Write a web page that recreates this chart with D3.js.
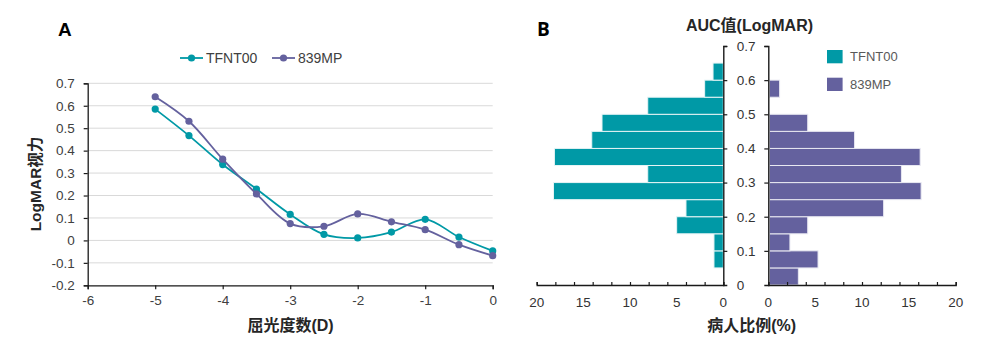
<!DOCTYPE html>
<html>
<head>
<meta charset="utf-8">
<script src="https://cdn.jsdelivr.net/npm/d3@7"></script>
<style>
    body { margin: 0; background: #fff; }
    svg { display: block; font-family: "Liberation Sans", Arial, "Noto Sans CJK SC", sans-serif; }
</style>
</head>
<body>
<div id="chart"></div>
<script>

// panel A: refraction vs LogMAR
const diopters = [-5, -4.5, -4, -3.5, -3, -2.5, -2, -1.5, -1, -0.5, 0];
const tfntVision = [0.585, 0.467, 0.338, 0.229, 0.116, 0.027, 0.011, 0.037, 0.094, 0.015, -0.047];
const mpVision = [0.64, 0.531, 0.362, 0.207, 0.075, 0.063, 0.118, 0.083, 0.048, -0.019, -0.068];
const xTicksA = [-6, -5, -4, -3, -2, -1, 0];
const yTicksA = [-0.2, -0.1, 0, 0.1, 0.2, 0.3, 0.4, 0.5, 0.6, 0.7];

// panel B: AUC histogram, bins by lower edge
const aucBins = [0, 0.05, 0.1, 0.15, 0.2, 0.25, 0.3, 0.35, 0.4, 0.45, 0.5, 0.55, 0.6, 0.65];
const tfntPct = [0, 1, 1, 5, 4, 18.2, 8.1, 18.1, 14.1, 13, 8.1, 2, 1.1, 0];
const mpPct = [3.1, 5.2, 2.2, 4.1, 12.2, 16.2, 14.1, 16.1, 9.1, 4.1, 0, 1.1, 0, 0];
const pctTicks = [0, 5, 10, 15, 20];
const yTicksB = [0, 0.1, 0.2, 0.3, 0.4, 0.5, 0.6, 0.7];

const seriesNames = ["TFNT00", "839MP"];
const colors = ["#0099a6", "#64619e"];

// plain hyphen minus like the original, not the unicode one d3 uses
const fmt = d => d === 0 ? "0" : String(d);

const svg = d3.select("#chart").append("svg")
    .attr("width", 985)
    .attr("height", 351);

// ---------- panel A ----------
let x = d3.scaleLinear().domain([-6, 0]).range([87.7, 492.7]);
let y = d3.scaleLinear().domain([-0.2, 0.7]).range([285.3, 83.3]);

let gA = svg.append("g");

// gridlines
gA.append("g")
    .selectAll("line")
    .data(yTicksA.filter(d => d > -0.2))
    .join("line")
    .attr("x1", x(-6))
    .attr("x2", x(0))
    .attr("y1", d => y(d))
    .attr("y2", d => y(d))
    .attr("stroke", "#d9d9d9")
    .attr("stroke-width", 1);

let xAxisA = gA.append("g")
    .attr("transform", `translate(0,${y(-0.2)})`)
    .call(d3.axisBottom(x).tickValues(xTicksA).tickFormat(fmt).tickSizeOuter(0).tickSize(4).tickPadding(6));

let yAxisA = gA.append("g")
    .attr("transform", `translate(${x(-6)},0)`)
    .call(d3.axisLeft(y).tickValues(yTicksA).tickFormat(fmt).tickSizeOuter(0).tickSize(4).tickPadding(9));

[xAxisA, yAxisA].forEach(a => {
    a.select(".domain").attr("stroke", "#1a1a1a").attr("stroke-width", 1.3);
    a.selectAll(".tick line").attr("stroke", "#1a1a1a").attr("stroke-width", 1.2);
    a.selectAll("text").attr("font-size", "13.5px").attr("fill", "#404040").attr("font-family", "Liberation Sans, Arial, sans-serif");
});

let line = d3.line()
    .x((d, i) => x(diopters[i]))
    .y(d => y(d))
    .curve(d3.curveCatmullRom.alpha(0.5));

[tfntVision, mpVision].forEach((vals, k) => {
    gA.append("path")
        .attr("d", line(vals))
        .attr("fill", "none")
        .attr("stroke", colors[k])
        .attr("stroke-width", 1.8);
    gA.append("g")
        .selectAll("circle")
        .data(vals)
        .join("circle")
        .attr("cx", (d, i) => x(diopters[i]))
        .attr("cy", d => y(d))
        .attr("r", 3.6)
        .attr("fill", colors[k]);
});

// legend A
let legA = gA.append("g").selectAll("g")
    .data(seriesNames)
    .join("g")
    .attr("transform", (d, i) => `translate(180,58) translate(${i * 92},0)`);
legA.append("line")
    .attr("x1", 0).attr("x2", 23)
    .attr("stroke", (d, i) => colors[i])
    .attr("stroke-width", 1.8);
legA.append("circle")
    .attr("cx", 11.5)
    .attr("r", 3.6)
    .attr("fill", (d, i) => colors[i]);
legA.append("text")
    .attr("x", 26)
    .attr("dy", "0.36em")
    .attr("font-size", "14px")
    .attr("fill", "#404040")
    .text(d => d);

// titles A
gA.append("text")
    .attr("x", 58)
    .attr("y", 35.7)
    .attr("font-size", "19px")
    .attr("font-weight", "bold")
    .text("A");

gA.append("text")
    .attr("transform", `translate(41,184) rotate(-90)`)
    .attr("text-anchor", "middle")
    .attr("font-size", "15.5px")
    .attr("font-weight", "bold")
    .attr("fill", "#262626")
    .text("LogMAR视力");

gA.append("text")
    .attr("x", 290.5)
    .attr("y", 331)
    .attr("text-anchor", "middle")
    .attr("font-size", "16px")
    .attr("font-weight", "bold")
    .attr("fill", "#262626")
    .text("屈光度数(D)");

// ---------- panel B ----------
let yB = d3.scaleLinear().domain([0, 0.7]).range([285, 46]);
let xL = d3.scaleLinear().domain([0, 20]).range([723.3, 536.7]);
let xR = d3.scaleLinear().domain([0, 20]).range([768.3, 955.7]);
let binW = 0.05;

let gB = svg.append("g");

// bars
gB.append("g")
    .selectAll("rect")
    .data(tfntPct.map((v, i) => ({low: aucBins[i], v: v})).filter(d => d.v > 0))
    .join("rect")
    .attr("x", d => xL(d.v))
    .attr("y", d => yB(d.low + binW))
    .attr("width", d => xL(0) - xL(d.v))
    .attr("height", d => yB(d.low) - yB(d.low + binW))
    .attr("fill", colors[0])
    .attr("stroke", "#e6f4f5")
    .attr("stroke-width", 1);

gB.append("g")
    .selectAll("rect")
    .data(mpPct.map((v, i) => ({low: aucBins[i], v: v})).filter(d => d.v > 0))
    .join("rect")
    .attr("x", xR(0) + 1)
    .attr("y", d => yB(d.low + binW))
    .attr("width", d => xR(d.v) - xR(0))
    .attr("height", d => yB(d.low) - yB(d.low + binW))
    .attr("fill", colors[1])
    .attr("stroke", "#e8e8f2")
    .attr("stroke-width", 1);

// axes B
let xAxisL = gB.append("g")
    .attr("transform", `translate(0,${yB(0)})`)
    .call(d3.axisTop(xL).ticks(8).tickSizeOuter(0).tickSize(3).tickFormat(""));
let xAxisR = gB.append("g")
    .attr("transform", `translate(0,${yB(0)})`)
    .call(d3.axisTop(xR).ticks(8).tickSizeOuter(0).tickSize(3).tickFormat(""));

let yAxisL = gB.append("g")
    .attr("transform", `translate(${xL(0)},0)`)
    .call(d3.axisRight(yB).tickValues(yTicksB).tickSizeOuter(0).tickSize(4).tickFormat(""));
let yAxisR = gB.append("g")
    .attr("transform", `translate(${xR(0)},0)`)
    .call(d3.axisLeft(yB).tickValues(yTicksB).tickSizeOuter(0).tickSize(4).tickFormat(""));

[xAxisL, xAxisR, yAxisL, yAxisR].forEach(a => {
    a.select(".domain").attr("stroke", "#1a1a1a").attr("stroke-width", 1.4);
    a.selectAll(".tick line").attr("stroke", "#1a1a1a").attr("stroke-width", 1.2);
});
yAxisL.selectAll(".tick").filter(d => d === 0).remove();
yAxisR.selectAll(".tick").filter(d => d === 0).remove();

// tick labels B
gB.append("g")
    .selectAll("text")
    .data(yTicksB)
    .join("text")
    .attr("x", 736.7)
    .attr("y", d => yB(d))
    .attr("dy", "0.36em")
    .attr("font-size", "13.5px")
    .attr("fill", "#333")
    .text(d => d === 0 ? "0" : d3.format(".1f")(d));

[xL, xR].forEach(sc => {
    gB.append("g")
        .selectAll("text")
        .data(pctTicks)
        .join("text")
        .attr("x", d => sc(d))
        .attr("y", 307)
        .attr("text-anchor", "middle")
        .attr("font-size", "13.5px")
        .attr("fill", "#333")
        .text(d => d);
});

// legend B
let legB = gB.append("g").selectAll("g")
    .data(seriesNames)
    .join("g")
    .attr("transform", (d, i) => `translate(827,${50 + i * 27.7})`);
legB.append("rect")
    .attr("width", 15.6)
    .attr("height", 13.3)
    .attr("fill", (d, i) => colors[i]);
legB.append("text")
    .attr("x", 23)
    .attr("y", 6.7)
    .attr("dy", "0.36em")
    .attr("font-size", "13px")
    .attr("fill", "#595959")
    .text(d => d);

// titles B
gB.append("text")
    .attr("x", 537)
    .attr("y", 35.7)
    .attr("font-size", "19px")
    .attr("font-weight", "bold")
    .attr("font-family", "Open Sans, sans-serif")
    .text("B");

gB.append("text")
    .attr("x", 749.5)
    .attr("y", 31)
    .attr("text-anchor", "middle")
    .attr("font-size", "16px")
    .attr("font-weight", "bold")
    .attr("fill", "#262626")
    .text("AUC值(LogMAR)");

gB.append("text")
    .attr("x", 751.7)
    .attr("y", 331)
    .attr("text-anchor", "middle")
    .attr("font-size", "16px")
    .attr("font-weight", "bold")
    .attr("fill", "#262626")
    .text("病人比例(%)");

</script>
</body>
</html>
